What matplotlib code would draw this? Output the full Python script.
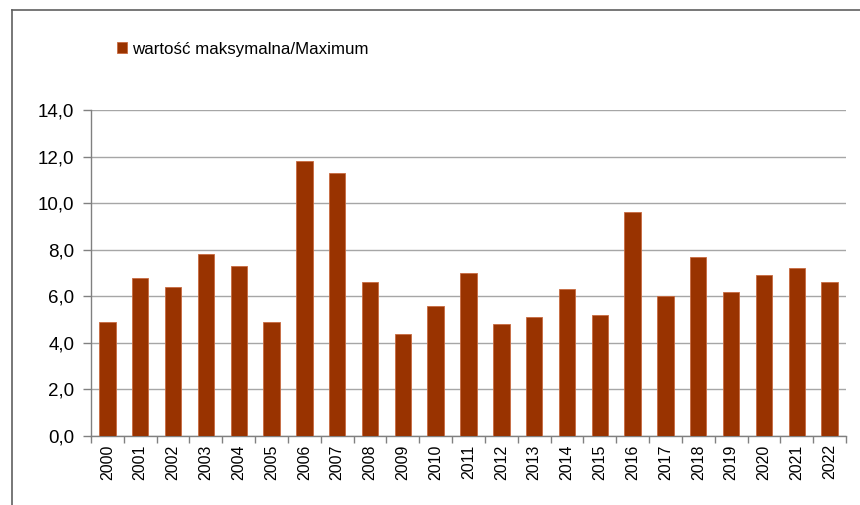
import matplotlib
matplotlib.use("Agg")
import matplotlib.pyplot as plt
from matplotlib.lines import Line2D

years = [str(y) for y in range(2000, 2023)]
values = [4.9, 6.8, 6.4, 7.8, 7.3, 4.9, 11.8, 11.3, 6.6, 4.4, 5.6, 7.0,
          4.8, 5.1, 6.3, 5.2, 9.6, 6.0, 7.7, 6.2, 6.9, 7.2, 6.6]
yticks = [0, 2, 4, 6, 8, 10, 12, 14]
ytick_labels = ["0,0", "2,0", "4,0", "6,0", "8,0", "10,0", "12,0", "14,0"]
legend_label = "wartość maksymalna/Maximum"

plt.rcParams['font.family'] = ['Liberation Sans', 'DejaVu Sans']

W, H = 860, 505
fig = plt.figure(figsize=(W / 100, H / 100), dpi=100)
ax = fig.add_axes([91 / W, 1 - 436 / H, (846 - 91) / W, (436 - 110) / H])

x = list(range(len(years)))
ax.bar(x, values, width=0.5, color="#993300", edgecolor="#c86a40", linewidth=0.6, zorder=3,
       label=legend_label)
ax.set_xlim(-0.5, len(years) - 0.5)
ax.set_ylim(0, 14)
ax.set_yticks(yticks)
ax.set_yticklabels(ytick_labels, fontsize=13.5)
ax.yaxis.grid(True, color="#a6a6a6", linewidth=1.0, zorder=0)
ax.set_axisbelow(True)

ax.set_xticks([i - 0.5 for i in range(len(years) + 1)], minor=False)
ax.set_xticklabels([])
ax.set_xticks(x, minor=True)
ax.set_xticklabels(years, minor=True, rotation=90, fontsize=11.5)
ax.tick_params(axis='x', which='major', length=5, direction='out', color="#808080", width=1)
ax.tick_params(axis='x', which='minor', length=0, pad=6)
ax.tick_params(axis='y', length=6, direction='out', color="#808080", width=1, pad=6)

for s in ["top", "right"]:
    ax.spines[s].set_visible(False)
for s in ["left", "bottom"]:
    ax.spines[s].set_color("#808080")
    ax.spines[s].set_linewidth(1.0)

fig.legend(loc="upper left", bbox_to_anchor=(110 / W, 1 - 35 / H), frameon=False,
           fontsize=12.2, handlelength=0.6, handleheight=0.6, handletextpad=0.3,
           borderaxespad=0)

# outer frame (left and top)
fig.add_artist(Line2D([12 / W, 12 / W], [0, 1 - 10 / H], transform=fig.transFigure,
                      color="#606060", linewidth=1.2))
fig.add_artist(Line2D([12 / W, 1], [1 - 10 / H, 1 - 10 / H], transform=fig.transFigure,
                      color="#606060", linewidth=1.2))

fig.savefig("out.png", dpi=100)
